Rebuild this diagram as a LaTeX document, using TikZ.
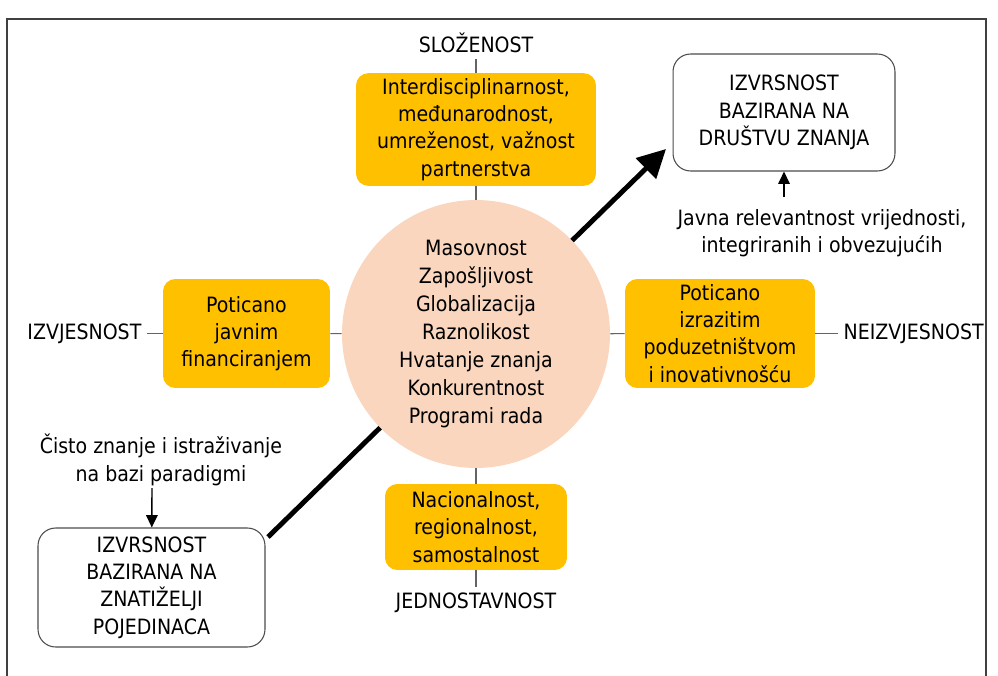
\documentclass[tikz,border=0pt]{standalone}
\usepackage{fontspec}
\setmainfont{DejaVu Sans Condensed}
\usetikzlibrary{arrows.meta}
\definecolor{boxgold}{RGB}{255,192,0}
\definecolor{peach}{RGB}{250,214,190}
\definecolor{axisgray}{RGB}{100,100,100}
\tikzset{
  txt/.style={font=\fontsize{12}{15.5}\selectfont, align=center, inner sep=3pt},
  goldbox/.style={txt, fill=boxgold, rounded corners=7pt},
  whitebox/.style={txt, draw=black!70, line width=0.6pt, rounded corners=10pt, fill=white},
  axis/.style={draw=axisgray, line width=0.6pt},
  tip/.style={-{Triangle[length=7pt,width=6.5pt]}, line width=0.8pt},
}
\begin{document}
\begin{tikzpicture}[x=0.02cm, y=-0.02cm]
  \useasboundingbox (0,0) rectangle (998,676);
  \draw[black!75, line width=0.7pt] (7,700) -- (7,19) -- (986,19) -- (986,700);
  % big arrow, under the circle
  \coordinate (start) at (268,537); \coordinate (end) at (666,149);
  \draw[line width=2.8pt, -{Triangle[length=16pt,width=16pt]}] (start) -- (end);
  % centre
  \node[txt, circle, fill=peach, minimum size=5.36cm, font=\fontsize{12}{16}\selectfont] (core) at (476,334)
    {Masovnost\\Zapošljivost\\Globalizacija\\Raznolikost\\Hvatanje znanja\\Konkurentnost\\Programi rada};
  % the four boxes round it
  \node[goldbox, minimum width=4.8cm, minimum height=2.18cm] (top) at (476,129.5)
    {Interdisciplinarnost,\\međunarodnost,\\umreženost, važnost\\partnerstva};
  \node[goldbox, minimum width=3.34cm, minimum height=2.18cm] (left) at (246.5,333.5)
    {Poticano\\javnim\\financiranjem};
  \node[goldbox, minimum width=3.8cm, minimum height=2.18cm] (right) at (720,333.5)
    {Poticano\\izrazitim\\poduzetništvom\\i inovativnošću};
  \node[goldbox, minimum width=3.64cm, minimum height=1.72cm] (bottom) at (476,527)
    {Nacionalnost,\\regionalnost,\\samostalnost};
  % axis labels
  \node[txt] (slo) at (476,43) {SLOŽENOST};
  \node[txt] (jed) at (476,603) {JEDNOSTAVNOST};
  \node[txt, anchor=east] (izv) at (147,333.5) {IZVJESNOST};
  \node[txt, anchor=west] (neiz) at (838,333.5) {NEIZVJESNOST};
  \draw[axis] (slo) -- (top);
  \draw[axis] (top) -- (core);
  \draw[axis] (core) -- (bottom);
  \draw[axis] (bottom) -- (jed);
  \draw[axis] (izv) -- (left);
  \draw[axis] (left) -- (core);
  \draw[axis] (core) -- (right);
  \draw[axis] (right) -- (neiz);
  % the two ends
  \node[whitebox, minimum width=4.44cm, minimum height=2.34cm] (society) at (784,112.5)
    {IZVRSNOST\\BAZIRANA NA\\DRUŠTVU ZNANJA};
  \node[whitebox, minimum width=4.54cm, minimum height=2.38cm] (curiosity) at (151.5,587.5)
    {IZVRSNOST\\BAZIRANA NA\\ZNATIŽELJI\\POJEDINACA};
  \node[txt] (javna) at (822,233) {Javna relevantnost vrijednosti,\\integriranih i obvezujućih};
  \node[txt] (cisto) at (161,460) {Čisto znanje i istraživanje\\na bazi paradigmi};
  \coordinate (javnatop) at (784,197);
  \coordinate (cistobot) at (152,488);
  \draw[tip] (javnatop) -- (society);
  \draw[tip] (cistobot) -- (curiosity);
\end{tikzpicture}
\end{document}
